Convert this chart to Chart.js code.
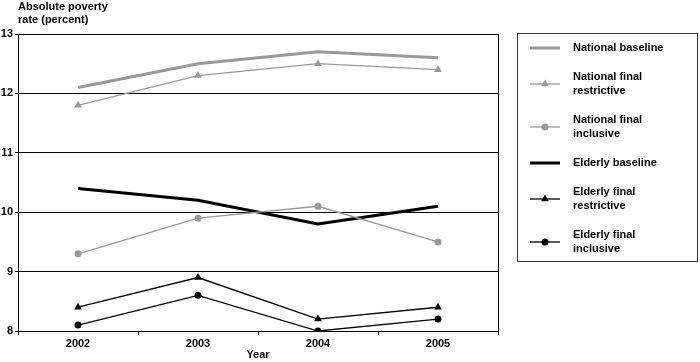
<!DOCTYPE html>
<html>
<head>
<meta charset="utf-8">
<script src="https://cdn.jsdelivr.net/npm/chart.js@4/dist/chart.umd.min.js"></script>
<style>
  html, body { margin: 0; padding: 0; background: #fff; }
  #wrap { position: relative; width: 700px; height: 362px; }
</style>
</head>
<body>
<div id="wrap"><canvas id="poverty-chart"></canvas></div>
<script>
const years = ['2002', '2003', '2004', '2005']
const yTicks = [8, 9, 10, 11, 12, 13]

const nationalBaseline = [12.1, 12.5, 12.7, 12.6]
const nationalRestrictive = [11.8, 12.3, 12.5, 12.4]
const nationalInclusive = [9.3, 9.9, 10.1, 9.5]
const elderlyBaseline = [10.4, 10.2, 9.8, 10.1]
const elderlyRestrictive = [8.4, 8.9, 8.2, 8.4]
const elderlyInclusive = [8.1, 8.6, 8.0, 8.2]

const GREY = '#999999'
const BLACK = '#000000'
const FONT = 'bold 11px "Liberation Sans", Arial, sans-serif'

// draws the outer plot frame, the y title and the boxed legend
const frameAndLegend = {
  id: 'frameAndLegend',
  afterDraw(chart) {
    const c = chart.ctx
    const area = chart.chartArea
    c.save()
    c.strokeStyle = '#000'
    c.lineWidth = 1
    c.strokeRect(Math.round(area.left) + 0.5, Math.round(area.top) + 0.5,
      Math.round(area.right - area.left), Math.round(area.bottom - area.top))

    c.font = FONT
    c.fillStyle = '#000'
    c.textBaseline = 'middle'
    c.textAlign = 'left'
    c.fillText('Absolute poverty', 18, 7)
    c.fillText('rate (percent)', 18, 20)

    // legend box
    c.strokeStyle = '#333'
    c.strokeRect(517.5, 33.5, 180, 228)

    let y = 48
    let prevLines = 0
    chart.data.datasets.forEach((ds, i) => {
      const n = ds.legendLines.length
      if (i > 0) y += 15 + 7 * prevLines + 7 * n
      c.strokeStyle = ds.borderColor
      c.lineWidth = ds.borderWidth
      c.beginPath()
      c.moveTo(530, y)
      c.lineTo(560, y)
      c.stroke()
      if (ds.pointRadius > 0) {
        c.fillStyle = ds.backgroundColor
        Chart.helpers.drawPoint(c, {
          pointStyle: ds.pointStyle,
          radius: ds.pointRadius,
          rotation: 0,
          borderWidth: 0,
        }, 545, y)
      }
      c.fillStyle = '#000'
      ds.legendLines.forEach((t, k) => {
        c.fillText(t, 573, y + (k - (n - 1) / 2) * 14)
      })
      prevLines = n
    })
    c.restore()
  },
}

function makeSet(lines, values, color, width, marker) {
  return {
    label: lines.join(' '),
    legendLines: lines,
    data: values,
    borderColor: color,
    backgroundColor: color,
    borderWidth: width,
    pointStyle: marker || 'circle',
    pointRadius: marker === 'triangle' ? 4.5 : marker ? 3.5 : 0,
    pointBorderWidth: 0,
    tension: 0,
  }
}

function initChart() {
  const ctx = document.getElementById('poverty-chart')
  Chart.defaults.font.family = '"Liberation Sans", Arial, sans-serif'
  Chart.defaults.font.size = 11
  Chart.defaults.font.weight = 'bold'
  Chart.defaults.color = '#000'

  new Chart(ctx, {
    type: 'line',
    data: {
      labels: years,
      datasets: [
        makeSet(['National baseline'], nationalBaseline, GREY, 3, false),
        makeSet(['National final', 'restrictive'], nationalRestrictive, GREY, 1.3, 'triangle'),
        makeSet(['National final', 'inclusive'], nationalInclusive, GREY, 1.3, 'circle'),
        makeSet(['Elderly baseline'], elderlyBaseline, BLACK, 3, false),
        makeSet(['Elderly final', 'restrictive'], elderlyRestrictive, BLACK, 1.3, 'triangle'),
        makeSet(['Elderly final', 'inclusive'], elderlyInclusive, BLACK, 1.3, 'circle'),
      ],
    },
    options: {
      responsive: true,
      maintainAspectRatio: false,
      animation: false,
      layout: { padding: { top: 34, right: 202, left: 0, bottom: 0 } },
      plugins: {
        legend: { display: false },
        tooltip: { enabled: false },
      },
      scales: {
        x: {
          offset: true,
          grid: {
            offset: true,
            drawOnChartArea: false,
            drawTicks: true,
            tickLength: 4,
            color: '#000',
          },
          border: { color: '#000', width: 1 },
          ticks: { padding: 2, color: '#000' },
          title: {
            display: true,
            text: 'Year',
            padding: { top: -3, bottom: 0 },
            color: '#000',
          },
          afterFit: (scale) => { scale.height = 31 },
        },
        y: {
          min: 8,
          max: 13,
          afterBuildTicks: (scale) => {
            scale.ticks = yTicks.map((v) => ({ value: v }))
          },
          grid: { color: '#000', lineWidth: 1, tickLength: 3 },
          border: { color: '#000', width: 1 },
          ticks: { padding: 2, color: '#000' },
          afterFit: (scale) => { scale.width = 18 },
        },
      },
    },
    plugins: [frameAndLegend],
  })
}

initChart()
</script>
</body>
</html>
